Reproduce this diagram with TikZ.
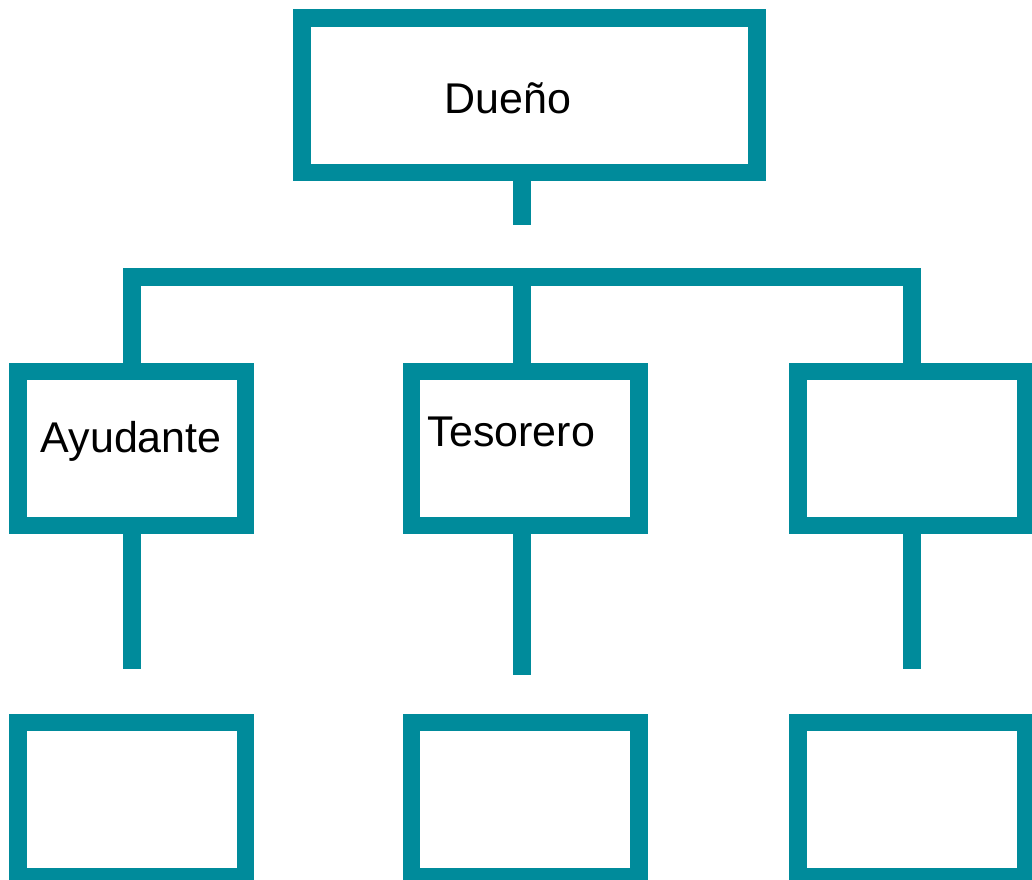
\documentclass[tikz,border=0pt]{standalone}
\usepackage{fontspec}
\setmainfont{Liberation Sans}
\usetikzlibrary{positioning}
\definecolor{boxteal}{HTML}{008B9B}

\begin{document}
\begin{tikzpicture}[
      x=1pt, y=-1pt,
      % Box styles
      post/.style={
          rectangle, draw=boxteal, line width=17.5pt, inner sep=0pt,
          minimum width=227.5pt, minimum height=154.2pt,
        },
      head post/.style={
          post, minimum width=455pt, minimum height=154.5pt,
        },
      % Connector style
      link/.style={
          draw=boxteal, line width=17.4pt,
        },
      % Text inside the boxes
      title/.style={
          font=\fontsize{43}{51}\selectfont, anchor=base west, inner sep=0pt,
        },
    ]
    \useasboundingbox (0,0) rectangle (1032,879);
    \clip (0,0) rectangle (1032,879);

    % --- Boxes ---
    \node[head post] (dueno) at (529.5,95) {};
    \node[post] (ayudante) at (131.7,448.5) {};
    \node[post] (tesorero) at (525,448.5) {};
    \node[post] (otro) at (911.7,448.5) {};
    \node[post] (bajoL) at (131.7,799.5) {};
    \node[post] (bajoM) at (525,799.5) {};
    \node[post] (bajoR) at (911.7,799.5) {};

    % --- Labels ---
    \node[title] (tDueno) at (444.5,113.3) {Dueño};
    \node[title] (tAyudante) at (40.5,452.7) {Ayudante};
    \node[title] (tTesorero) at (427.5,446) {Tesorero};

    % --- Connectors ---
    \coordinate (stubTop) at (522,225.3);
    \coordinate (colL) at (132,277);
    \coordinate (colM) at (522,277);
    \coordinate (colR) at (912,277);
    \coordinate (endL) at (132,669.3);
    \coordinate (endM) at (522,675);
    \coordinate (endR) at (912,669.3);

    \draw[link] (dueno.south -| stubTop) -- (stubTop);
    \draw[link] (ayudante.north -| colL) -- (colL) -- (colR) -- (otro.north -| colR);
    \draw[link] (colM) -- (tesorero.north -| colM);
    \foreach \post/\col in {ayudante/endL, tesorero/endM, otro/endR} {
        \draw[link] (\post.south -| \col) -- (\col);
      }
  \end{tikzpicture}
\end{document}
